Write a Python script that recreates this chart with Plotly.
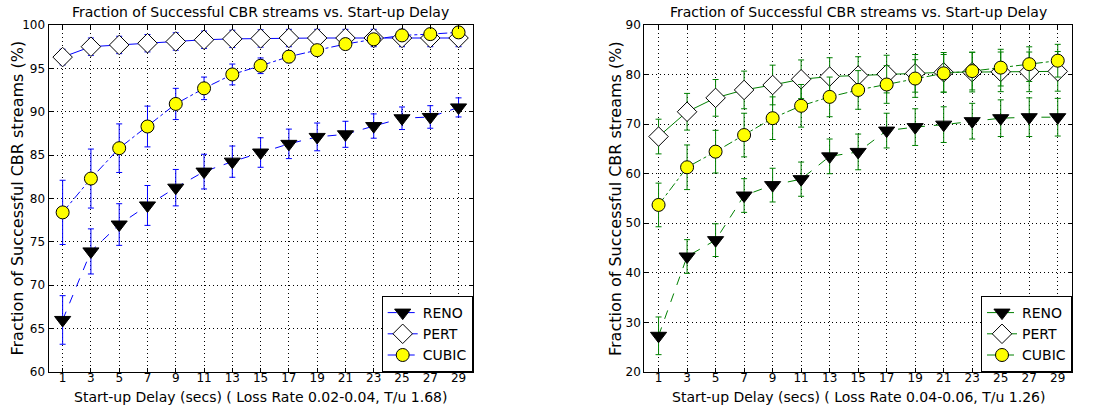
import plotly.graph_objects as go

delays = [1, 3, 5, 7, 9, 11, 13, 15, 17, 19, 21, 23, 25, 27, 29]
x_ticks = delays

# Left panel (Loss Rate 0.02-0.04)
reno_l = [66.0, 73.9, 77.0, 79.2, 81.25, 83.1, 84.25, 85.3, 86.3, 87.1, 87.4, 88.35, 89.25, 89.4, 90.5]
reno_l_err = [2.8, 2.6, 2.4, 2.3, 2.1, 2.0, 1.8, 1.7, 1.7, 1.6, 1.5, 1.4, 1.3, 1.3, 1.1]
pert_l = [96.3, 97.5, 97.7, 97.9, 98.1, 98.3, 98.4, 98.45, 98.5, 98.5, 98.5, 98.5, 98.5, 98.5, 98.5]
pert_l_err = [0.9, 1.0, 1.0, 1.0, 1.0, 1.0, 1.0, 1.0, 1.0, 1.0, 1.0, 1.0, 1.0, 1.0, 1.0]
cubic_l = [78.4, 82.3, 85.8, 88.3, 90.9, 92.7, 94.3, 95.3, 96.35, 97.1, 97.8, 98.35, 98.8, 98.95, 99.15]
cubic_l_err = [3.7, 3.4, 2.8, 2.35, 1.8, 1.3, 1.2, 0.9, 0.7, 0.5, 0.5, 0.6, 0.6, 0.6, 0.6]

# Right panel (Loss Rate 0.04-0.06)
reno_r = [27.3, 43.3, 46.6, 55.6, 57.7, 58.9, 63.5, 64.4, 68.7, 69.4, 69.9, 70.6, 71.2, 71.4, 71.4]
reno_r_err = [3.8, 3.4, 3.3, 3.4, 3.4, 3.45, 3.5, 3.6, 3.5, 3.7, 3.6, 3.6, 3.7, 3.9, 3.8]
pert_r = [67.5, 72.5, 75.3, 76.9, 77.9, 79.05, 79.6, 79.8, 80.1, 80.25, 80.45, 80.5, 80.55, 80.55, 80.65]
pert_r_err = [3.5, 3.7, 3.7, 3.8, 4.0, 3.9, 3.8, 3.8, 3.8, 3.8, 4.0, 4.0, 4.0, 4.0, 4.0]
cubic_r = [53.7, 61.3, 64.45, 67.8, 71.2, 73.7, 75.5, 76.9, 78.0, 79.2, 80.25, 80.7, 81.4, 82.1, 82.8]
cubic_r_err = [4.4, 4.5, 4.3, 4.4, 4.3, 4.3, 4.0, 3.9, 3.8, 3.8, 3.8, 3.8, 3.7, 3.5, 3.3]

title_text = "Fraction of Successful CBR streams vs. Start-up Delay"
ytitle = "Fraction of Successful CBR streams (%)"
xtitle_l = "Start-up Delay (secs) ( Loss Rate 0.02-0.04, T/u 1.68)"
xtitle_r = "Start-up Delay (secs) ( Loss Rate 0.04-0.06, T/u 1.26)"

FONT = "DejaVu Sans"
W, H = 1094, 409

fig = go.Figure()


def add_series(x, y, err, name, color, dash, symbol, mfill, msize, xa, ya, legend):
    fig.add_trace(go.Scatter(
        x=x, y=y, name=name, mode="lines+markers",
        xaxis=xa, yaxis=ya, legend=legend,
        line=dict(color=color, width=1, dash=dash),
        marker=dict(symbol=symbol, size=msize,
                    color=mfill, line=dict(color="black", width=1)),
        error_y=dict(type="data", array=err, visible=True, color=color,
                     thickness=1, width=3),
    ))


for (xa, ya, leg, col, reno, reno_e, pert, pert_e, cub, cub_e) in [
    ("x", "y", "legend", "#0000ff", reno_l, reno_l_err, pert_l, pert_l_err, cubic_l, cubic_l_err),
    ("x2", "y2", "legend2", "#008000", reno_r, reno_r_err, pert_r, pert_r_err, cubic_r, cubic_r_err),
]:
    add_series(delays, reno, reno_e, "RENO", col, "dash", "triangle-down", "black", 14, xa, ya, leg)
    add_series(delays, pert, pert_e, "PERT", col, "solid", "diamond", "white", 15, xa, ya, leg)
    add_series(delays, cub, cub_e, "CUBIC", col, "dashdot", "circle", "#ffff00", 13, xa, ya, leg)

px = lambda v: v / W
py = lambda v: 1 - v / H

ydom = [py(372), py(25)]
xdom_l = [px(48.5), px(472.7)]
xdom_r = [px(644.3), px(1072)]

axis_common = dict(
    showline=True, linecolor="black", linewidth=1, mirror="ticks",
    ticks="inside", ticklen=4, tickcolor="black",
    showgrid=True, gridcolor="black", griddash="1px,3px", gridwidth=1,
    zeroline=False, tickfont=dict(family=FONT, size=12, color="black"),
    automargin=False,
)

legend_common = dict(xanchor="right", yanchor="bottom",
                     bgcolor="white", bordercolor="black", borderwidth=1,
                     font=dict(family=FONT, size=14, color="black"),
                     tracegroupgap=0, itemwidth=30)

fig.update_layout(
    width=W, height=H,
    margin=dict(l=0, r=0, t=0, b=0, pad=0, autoexpand=False),
    plot_bgcolor="white", paper_bgcolor="white",
    font=dict(family=FONT, color="black"),
    xaxis=dict(domain=xdom_l, range=[0, 30], tickvals=x_ticks, anchor="y",
               ticklabelstandoff=-5, **axis_common),
    yaxis=dict(domain=ydom, range=[60, 100], tickvals=list(range(60, 101, 5)), anchor="x", **axis_common),
    xaxis2=dict(domain=xdom_r, range=[0, 30], tickvals=x_ticks, anchor="y2",
                ticklabelstandoff=-5, **axis_common),
    yaxis2=dict(domain=ydom, range=[20, 90], tickvals=list(range(20, 91, 10)), anchor="x2", **axis_common),
    legend=dict(x=px(472.7), y=py(372), **legend_common),
    legend2=dict(x=px(1072), y=py(372), **legend_common),
    showlegend=True,
)

annots = [
    dict(text=title_text, x=(xdom_l[0] + xdom_l[1]) / 2, y=py(12), size=14),
    dict(text=title_text, x=(xdom_r[0] + xdom_r[1]) / 2, y=py(12), size=14),
    dict(text=xtitle_l, x=(xdom_l[0] + xdom_l[1]) / 2, y=py(397), size=14),
    dict(text=xtitle_r, x=(xdom_r[0] + xdom_r[1]) / 2, y=py(397), size=14),
]
for a in annots:
    fig.add_annotation(xref="paper", yref="paper", showarrow=False,
                       text=a["text"], x=a["x"], y=a["y"],
                       xanchor="center", yanchor="middle",
                       font=dict(family=FONT, size=a["size"], color="black"))
for xpos in [17, 615.5]:
    fig.add_annotation(xref="paper", yref="paper", showarrow=False,
                       text=ytitle, textangle=-90, x=px(xpos), y=(ydom[0] + ydom[1]) / 2,
                       xanchor="center", yanchor="middle",
                       font=dict(family=FONT, size=16, color="black"))

fig.write_html("out.html")
